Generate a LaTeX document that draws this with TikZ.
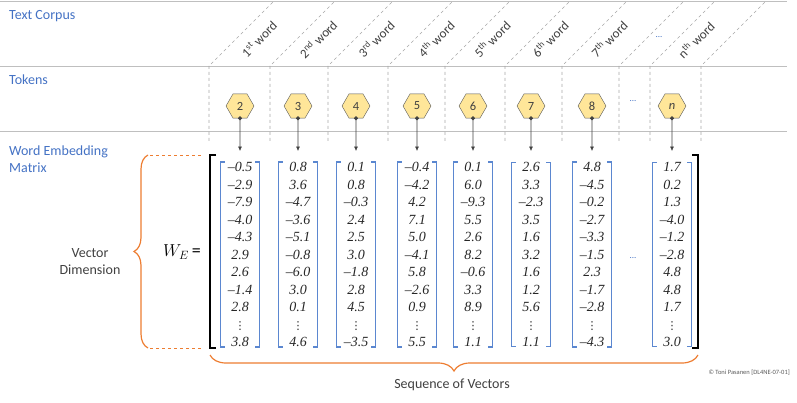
\documentclass[tikz,border=0pt]{standalone}
\usepackage{fontspec}
\setmainfont{Carlito}
\newfontfamily\numfont{Liberation Serif}
\newfontfamily\symfont{DejaVu Sans}
\usetikzlibrary{arrows.meta, positioning, shapes.geometric, decorations.pathreplacing}
\definecolor{labelblue}{HTML}{4472C4}
\definecolor{vecblue}{HTML}{5B87D0}
\definecolor{linegray}{HTML}{BFBFBF}
\definecolor{dashgray}{HTML}{A6A6A6}
\definecolor{tokenfill}{HTML}{FFE699}
\definecolor{tokendraw}{HTML}{595959}
\definecolor{braceorange}{HTML}{ED7D31}
\definecolor{textdark}{HTML}{404040}
\newcommand{\coldots}{{\symfont\fontsize{11}{11}\selectfont ⋮}}

\begin{document}
\begin{tikzpicture}[
    x=1pt, y=-1pt,
    rowlabel/.style={anchor=west, inner sep=0pt, align=left, text=labelblue, font=\fontsize{14}{17}\selectfont},
    plainlabel/.style={inner sep=0pt, align=center, text=textdark, font=\fontsize{14}{17}\selectfont},
    word/.style={rotate=45, inner sep=0pt, text=textdark, font=\fontsize{13}{13}\selectfont},
    token/.style={regular polygon, regular polygon sides=6, minimum size=28pt, inner sep=0pt, draw=tokendraw, fill=tokenfill, text=textdark, font=\fontsize{12.5}{12.5}\selectfont},
    vec/.style={inner sep=0pt, minimum width=38pt, align=center, text=black!85, font=\numfont\itshape\fontsize{14}{17.5}\selectfont},
    vbrack/.style={draw=vecblue, line width=1.1pt},
    mbrack/.style={draw=black, line width=1.4pt},
    arrow/.style={{Circle[length=4pt]}-{Latex[length=4.5pt, width=4pt]}, textdark, semithick, shorten <=-2pt},
    sepline/.style={linegray, line width=0.9pt},
    divider/.style={dashgray, dashed, line width=0.6pt},
    orangebrace/.style={braceorange, line width=1.2pt, decorate, decoration={brace, amplitude=14pt}},
    moredots/.style={inner sep=0pt, text=labelblue, font=\fontsize{9}{9}\selectfont},
]
    \useasboundingbox (0,0) rectangle (797,403);

    % Row separators and column dividers
    \draw[sepline] (0,1) -- (787,1);
    \draw[sepline] (0,66) -- (787,66);
    \draw[sepline] (0,131) -- (787,131);
    \foreach \dx in {209,270,328,388,445,505,562,619,650,701} {
        \draw[divider] (\dx,141) -- (\dx,66) -- ++(65,-65);
    }

    % Row labels
    \node[rowlabel] (corpus) at (9,16) {Text Corpus};
    \node[rowlabel] (tokens) at (9,80) {Tokens};
    \node[rowlabel] (wem) at (9,159) {Word Embedding\\Matrix};

    % Words
    \node[word] (w1) at (259,39) {1\textsuperscript{st} word};
    \node[word] (w2) at (318,39) {2\textsuperscript{nd} word};
    \node[word] (w3) at (376,39) {3\textsuperscript{rd} word};
    \node[word] (w4) at (436,39) {4\textsuperscript{th} word};
    \node[word] (w5) at (492,39) {5\textsuperscript{th} word};
    \node[word] (w6) at (550,39) {6\textsuperscript{th} word};
    \node[word] (w7) at (609,39) {7\textsuperscript{th} word};
    \node[moredots] (wdots) at (659,37) {...};
    \node[word] (w8) at (696,40) {n\textsuperscript{th} word};

    % Tokens
    \node[token] (h1) at (240,106) {2};
    \node[token] (h2) at (298,106) {3};
    \node[token] (h3) at (356,106) {4};
    \node[token] (h4) at (417,106) {5};
    \node[token] (h5) at (473,106) {6};
    \node[token] (h6) at (531,106) {7};
    \node[token] (h7) at (592,106) {8};
    \node[moredots] (hdots) at (633,101) {...};
    \node[token] (h8) at (672,106) {\textit{n}};

    % Embedding vectors
    \node[vec] (c1) at (240,254.5) {–0.5\\–2.9\\–7.9\\–4.0\\–4.3\\2.9\\2.6\\–1.4\\2.8\\\coldots\\3.8};
    \node[vec] (c2) at (298,254.5) {0.8\\3.6\\–4.7\\–3.6\\–5.1\\–0.8\\–6.0\\3.0\\0.1\\\coldots\\4.6};
    \node[vec] (c3) at (356,254.5) {0.1\\0.8\\–0.3\\2.4\\2.5\\3.0\\–1.8\\2.8\\4.5\\\coldots\\–3.5};
    \node[vec] (c4) at (417,254.5) {–0.4\\–4.2\\4.2\\7.1\\5.0\\–4.1\\5.8\\–2.6\\0.9\\\coldots\\5.5};
    \node[vec] (c5) at (473,254.5) {0.1\\6.0\\–9.3\\5.5\\2.6\\8.2\\–0.6\\3.3\\8.9\\\coldots\\1.1};
    \node[vec] (c6) at (531,254.5) {2.6\\3.3\\–2.3\\3.5\\1.6\\3.2\\1.6\\1.2\\5.6\\\coldots\\1.1};
    \node[vec] (c7) at (592,254.5) {4.8\\–4.5\\–0.2\\–2.7\\–3.3\\–1.5\\2.3\\–1.7\\–2.8\\\coldots\\–4.3};
    \node[moredots] (cdots) at (633,258) {...};
    \node[vec] (c8) at (672,254.5) {1.7\\0.2\\1.3\\–4.0\\–1.2\\–2.8\\4.8\\4.8\\1.7\\\coldots\\3.0};
    \foreach \c in {c1,c2,c3,c4,c5,c6,c7,c8} {
        \draw[vbrack] ([xshift=4pt]\c.north west) -| (\c.south west) -- ++(4pt,0);
        \draw[vbrack] ([xshift=-4pt]\c.north east) -| (\c.south east) -- ++(-4pt,0);
    }

    % Matrix
    \node (we) at (182,252) {\fontsize{18}{18}\selectfont$W_{E}$\,=};
    \draw[mbrack] (216,155) -- (210,155) -- (210,348) -- (216,348);
    \draw[mbrack] (692,155) -- (698,155) -- (698,348) -- (692,348);

    % Arrows
    \draw[arrow] (h1.south) -- ([yshift=11pt]c1.north);
    \draw[arrow] (h2.south) -- ([yshift=11pt]c2.north);
    \draw[arrow] (h3.south) -- ([yshift=11pt]c3.north);
    \draw[arrow] (h4.south) -- ([yshift=11pt]c4.north);
    \draw[arrow] (h5.south) -- ([yshift=11pt]c5.north);
    \draw[arrow] (h6.south) -- ([yshift=11pt]c6.north);
    \draw[arrow] (h7.south) -- ([yshift=11pt]c7.north);
    \draw[arrow] (h8.south) -- ([yshift=11pt]c8.north);

    % Braces
    \draw[orangebrace] (148,348) -- (148,155);
    \draw[braceorange, dashed, line width=0.8pt] (150,155) -- (202,155);
    \draw[braceorange, dashed, line width=0.8pt] (150,348) -- (202,348);
    \node[plainlabel] (vdim) at (90,262) {Vector\\Dimension};
    \draw[orangebrace, decoration={amplitude=16pt}] (698,355) -- (210,355);
    \node[plainlabel] (seq) at (452,385) {Sequence of Vectors};

    \node[anchor=east, inner sep=0pt, text=black!65, font=\fontsize{6.5}{6.5}\selectfont] (credit) at (790,373) {© Toni Pasanen [DL4NE-07-01]};
\end{tikzpicture}
\end{document}
